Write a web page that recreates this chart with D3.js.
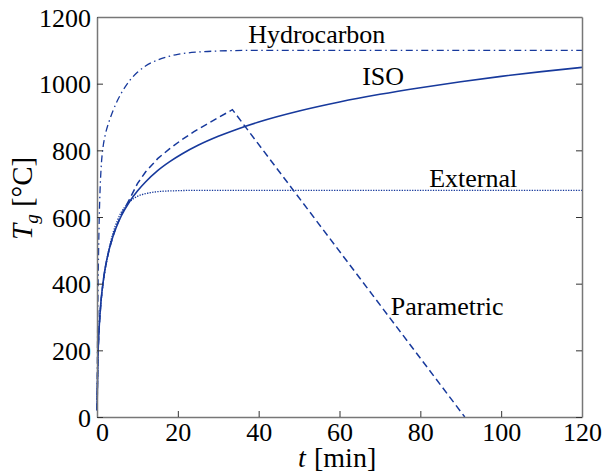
<!DOCTYPE html>
<html><head><meta charset="utf-8">
<script src="https://cdn.jsdelivr.net/npm/d3@7"></script>
<style>body{margin:0;background:#fff}svg{display:block}svg text{font-family:"Liberation Serif","Times New Roman",serif !important;fill:#000}</style>
</head><body>
<svg id="c" width="603" height="472"></svg>
<script>
const isoT = [0,0.25,0.5,1,1.5,2,3,4,5,6,8,10,12,15,18,21,25,30,35,40,50,60,70,80,90,100,110,120];
const isoV = [20,185,261,349,404,445,502,544,576,603,645,678,705,739,766,789,815,842,865,885,918,945,968,988,1006,1022,1036,1049];
const hcT = [0,0.1,0.25,0.5,0.75,1,1.5,2,3,4,5,6,8,10,12,15,20,25,30,40,60,80,100,120];
const hcV = [20,187,373,568,678,743,810,844,887,920,948,971,1008,1034,1053,1071,1088,1095,1098,1100,1100,1100,1100,1100];
const exT = [0,0.25,0.5,1,1.5,2,3,4,5,6,7,8,10,12,15,20,25,30,60,90,120];
const exV = [20,182,263,346,399,441,506,554,588,614,632,645,662,670,676,679,680,680,680,680,680];
const paT = [0,0.25,0.5,1,1.5,2,3,4,5,6,8,10,12,15,18,21,24,27,30,33.5,91];
const paV = [20,185,261,349,404,445,502,544,578,606,652,700,735,775,805,832,856,877,898,922,0];
const xTicks = [0,20,40,60,80,100,120];
const yTicks = [0,200,400,600,800,1000,1200];
const labels = [
  {text:"Hydrocarbon", t:37.4, v:1121},
  {text:"ISO", t:65.6, v:995},
  {text:"External", t:82.2, v:689},
  {text:"Parametric", t:72.7, v:305}
];

const svg = d3.select("#c");
const L=97, R=582, T0=17, B=417;
const x = d3.scaleLinear().domain([0,120]).range([L,R]);
const y = d3.scaleLinear().domain([0,1200]).range([B,T0]);
const col = "#17399c";
const axisCol = "#777";
const serif = "'Liberation Serif', 'Times New Roman', serif";

function draw(ts, vs, dash, w, curve){
  const pts = ts.map((t,i)=>[t,vs[i]]);
  svg.append("path").datum(pts)
    .attr("d", d3.line().x(d=>x(d[0])).y(d=>y(d[1])).curve(curve))
    .attr("fill","none").attr("stroke",col).attr("stroke-width",w)
    .attr("stroke-dasharray",dash);
}
draw(exT, exV, "1.3,1.3", 1.3, d3.curveMonotoneX);
draw(hcT, hcV, "7,3.5,1.5,3.5", 1.3, d3.curveMonotoneX);
draw(paT, paV, "7,4", 1.5, d3.curveLinear);
draw(isoT, isoV, null, 1.6, d3.curveMonotoneX);

// axes box
const g = svg.append("g");
const fmt = d3.format("d");
const axB = d3.axisBottom(x).tickValues(xTicks).tickFormat(fmt).tickSizeInner(-6).tickSizeOuter(0).tickPadding(6);
const axL = d3.axisLeft(y).tickValues(yTicks).tickFormat(fmt).tickSizeInner(-6).tickSizeOuter(0).tickPadding(6);
const axR = d3.axisRight(y).tickValues(yTicks).tickSizeInner(-6).tickSizeOuter(0).tickFormat("");
const axT = d3.axisTop(x).tickValues(xTicks).tickSize(0).tickFormat("");
const gb = g.append("g").attr("transform",`translate(0,${B})`).call(axB);
const gl = g.append("g").attr("transform",`translate(${L},0)`).call(axL);
g.append("g").attr("transform",`translate(${R},0)`).call(axR);
g.append("g").attr("transform",`translate(0,${T0})`).call(axT);
g.selectAll("g").attr("font-family",serif).attr("font-size",26);
g.selectAll(".domain").attr("stroke",axisCol).attr("stroke-width",1.5);
g.selectAll(".tick line").attr("stroke","#333").attr("stroke-width",1);
g.selectAll(".tick text").style("font-size","26px").style("font-family",serif).attr("fill","#000");
gb.selectAll(".tick text").attr("dy","0.71em").filter(d=>d===0).attr("dx",5);
gl.selectAll(".tick text").attr("dy","0.35em");

// labels
labels.forEach(l=>{
  svg.append("text").attr("x",x(l.t)).attr("y",y(l.v)).style("font-size","26px").text(l.text);
});

// x title
const xt = svg.append("text").attr("y",467).style("font-size","28px");
xt.append("tspan").attr("x",298).attr("font-style","italic").text("t");
xt.append("tspan").attr("x",314).text("[min]");

// y title
const yt = svg.append("text").attr("transform",`translate(32,240) rotate(-90)`).attr("text-anchor","start").style("font-size","29px");
yt.append("tspan").attr("font-style","italic").text("T");
yt.append("tspan").attr("font-style","italic").style("font-size","19px").attr("dy",6).text("g");
yt.append("tspan").attr("dy",-6).text(" [°C]");
</script>
</body></html>
